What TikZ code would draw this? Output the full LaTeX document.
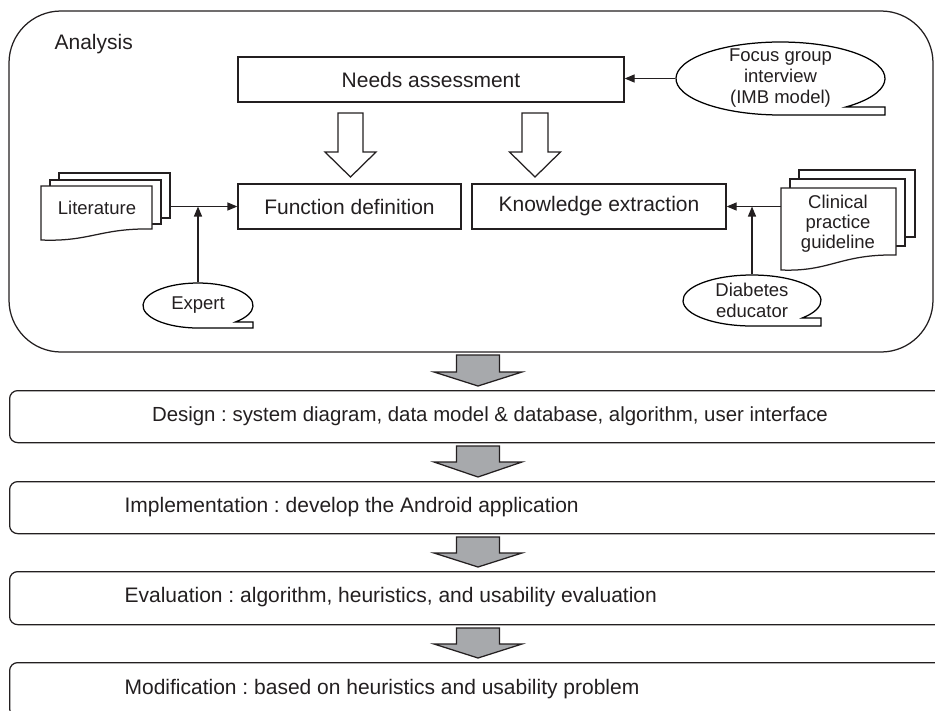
\documentclass[tikz,border=0pt]{standalone}
\usepackage{fontspec}
\setmainfont{Liberation Sans}
\usetikzlibrary{arrows.meta,shapes.geometric}
\definecolor{ink}{HTML}{231F20}
\definecolor{blockgray}{HTML}{A7A9AC}
\frenchspacing

% ellipse callout with a tape-like tail at its lower right
% #1 name, #2 cx, #3 cy (downwards), #4 rx, #5 ry, #6 tail depth below centre, #7 text
\newcommand\tapecallout[7]{%
  \pgfmathsetmacro\tapeang{-asin(#6/#5)}%
  \draw[fill=white] (#2,-#3) ++(\tapeang:#4 and #5)
    arc[start angle=\tapeang, end angle=270, x radius=#4, y radius=#5]
    -- (#2+#4,-#3-#5) -- (#2+#4,-#3-#6) -- cycle;
  \node[ellipse, draw=none, inner sep=0pt, minimum width=2*#4, minimum height=2*#5] (#1) at (#2,-#3) {};
  \node[call] (#1text) at (#1.center) {#7};
}

% downward block arrow: [#1 style], #2 cx, #3 top, #4 head base, #5 tip, #6 shaft half width, #7 head half width
\newcommand\blockdown[7][hollowarrow]{%
  \draw[#1] (#2-#6,-#3) -- (#2+#6,-#3) -- (#2+#6,-#4) -- (#2+#7,-#4)
    -- (#2,-#5) -- (#2-#7,-#4) -- (#2-#6,-#4) -- cycle;
}

\begin{document}
\begin{tikzpicture}[x=1pt, y=1pt, line width=1.25pt, line join=miter,
  every node/.style={text=ink},
  box/.style={draw=ink, rectangle, inner sep=0pt, font=\fontsize{21}{25}\selectfont},
  label21/.style={inner sep=0pt, font=\fontsize{21}{25}\selectfont},
  call/.style={inner sep=0pt, align=center, font=\fontsize{18.5}{21}\selectfont},
  flow/.style={draw=ink, -{Triangle[length=10pt,width=8pt]}},
  hollowarrow/.style={draw=ink, fill=white},
  grayarrow/.style={draw=ink, fill=blockgray},
  stage/.style={draw=ink, rectangle, rounded corners=8pt, inner sep=0pt},
]
\useasboundingbox (0,0) rectangle (935,-710);
\clip (0,0) rectangle (935,-710);

% ---- analysis phase ----
\draw[ink, rounded corners=52pt] (9,-11) rectangle (933,-352);
\node[label21, anchor=west] (analysis) at (54,-44) {Analysis};

\node[box, minimum width=386pt, minimum height=45pt] (needs) at (431,-79.5) {Needs assessment};
\node[box, minimum width=223pt, minimum height=45pt] (func) at (349.5,-206.5) {Function definition};
\node[box, minimum width=254pt, minimum height=45pt] (know) at (599,-206.5) {Knowledge extraction};

\blockdown{350.5}{113}{152}{177}{12.5}{25.5}
\blockdown{535}{113}{152}{177}{13}{25.5}

% focus group interview
\tapecallout{focus}{780.5}{78.5}{104.5}{36.5}{28.5}{Focus group\\interview\\(IMB model)}
\draw[flow] (focus.west) -- (focus.west -| needs.east);

% literature stack
\draw[ink, fill=white] (59,-173) rectangle (170,-218);
\draw[ink, fill=white] (50,-180) rectangle (161,-224);
\draw[ink, fill=white] (41,-186) -- (152,-186) -- (152,-229)
  .. controls (100,-228) and (90,-242) .. (41,-240) -- cycle;
\node[call] (lit) at (97,-208) {Literature};
\coordinate (litout) at (170,-206.5);
\draw[flow] (litout) -- (func.west);

% expert
\tapecallout{expert}{198}{305.5}{55}{22.5}{16.5}{Expert}
\draw[flow] (expert.north) -- (expert.north |- func.west);

% clinical practice guideline stack
\draw[ink, fill=white] (799,-170) rectangle (915,-237);
\draw[ink, fill=white] (790,-179) rectangle (905,-246);
\draw[ink, fill=white] (781,-188) -- (896,-188) -- (896,-255)
  .. controls (840,-254) and (830,-272) .. (781,-270) -- cycle;
\node[call, font=\fontsize{18.5}{20}\selectfont] (cpg) at (838,-224) {Clinical\\practice\\guideline};
\coordinate (cpgout) at (781,-206.5);
\draw[flow] (cpgout) -- (know.east);

% diabetes educator
\tapecallout{diab}{752}{300.5}{69}{25.5}{17.5}{Diabetes\\educator}
\draw[flow] (diab.north) -- (diab.north |- know.east);

% ---- later phases ----
\blockdown[grayarrow]{478}{355}{372}{386}{21.5}{44}

\node[stage, anchor=north west, minimum width=960pt, minimum height=52pt] (design) at (9,-390) {};
\node[label21, anchor=center, font=\fontsize{20.4}{24}\selectfont] (designtext) at (490,-416) {Design : system diagram, data model \& database, algorithm, user interface};

\blockdown[grayarrow]{478}{446}{462}{477}{21.5}{44}

\node[stage, anchor=north west, minimum width=960pt, minimum height=52pt] (impl) at (9,-481) {};
\node[label21, anchor=west] (impltext) at (124,-507) {Implementation : develop the Android application};

\blockdown[grayarrow]{478}{537}{553}{567}{21.5}{44}

\node[stage, anchor=north west, minimum width=960pt, minimum height=53pt] (eval) at (9,-571) {};
\node[label21, anchor=west] (evaltext) at (124,-597.5) {Evaluation : algorithm, heuristics, and usability evaluation};

\blockdown[grayarrow]{478}{628}{644}{658}{21.5}{44}

\node[stage, anchor=north west, minimum width=960pt, minimum height=54pt] (modif) at (9,-662) {};
\node[label21, anchor=west] (modiftext) at (124,-689) {Modification : based on heuristics and usability problem};

\end{tikzpicture}
\end{document}
